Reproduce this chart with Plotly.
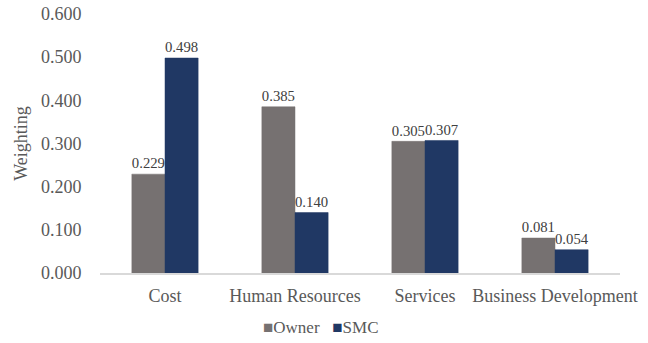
import plotly.graph_objects as go

categories = ["Cost", "Human Resources", "Services", "Business Development"]
owner = [0.229, 0.385, 0.305, 0.081]
smc = [0.498, 0.140, 0.307, 0.054]

series = [("Owner", owner, "#767171"), ("SMC", smc, "#203864")]

serif = "Liberation Serif, Times New Roman, serif"
text_gray = "#595959"

fig = go.Figure()
for name, values, color in series:
    fig.add_trace(go.Bar(
        name=name, x=categories, y=values,
        marker=dict(color=color, line=dict(color=color, width=0.5)),
        text=[f"{v:.3f}" for v in values], textposition="outside",
        textfont=dict(family=serif, size=16, color="#404040"),
        cliponaxis=False,
    ))

# Compact legend row with small square keys
legend_text = "&nbsp;&nbsp;&nbsp;".join(
    f'<span style="color:{color}">■</span>{name}' for name, _, color in series
)
fig.add_annotation(
    text=legend_text, xref="paper", yref="paper", x=0.425, y=-0.209,
    xanchor="center", yanchor="middle", showarrow=False,
    font=dict(family=serif, size=17, color=text_gray),
)

fig.update_layout(
    width=648, height=343,
    margin=dict(l=100, r=28, t=14, b=70, autoexpand=False),
    paper_bgcolor="white", plot_bgcolor="white",
    barmode="group", bargap=0.49, bargroupgap=0,
    font=dict(family=serif, color=text_gray, size=18),
    showlegend=False,
)
fig.update_xaxes(
    automargin=False,
    showline=True, linecolor="#d9d9d9", linewidth=1.5,
    ticks="outside", ticklen=6, tickcolor="rgba(0,0,0,0)",
    tickfont=dict(family=serif, size=18, color=text_gray),
    showgrid=False,
)
fig.update_yaxes(
    automargin=False,
    range=[0, 0.6], dtick=0.1, tickformat=".3f",
    showgrid=False, zeroline=False, showline=False,
    ticks="outside", ticklen=14, tickcolor="rgba(0,0,0,0)",
    tickfont=dict(family=serif, size=18, color=text_gray),
    title=dict(text="Weighting", font=dict(family=serif, size=18, color=text_gray), standoff=8),
)

fig.write_html("out.html")
